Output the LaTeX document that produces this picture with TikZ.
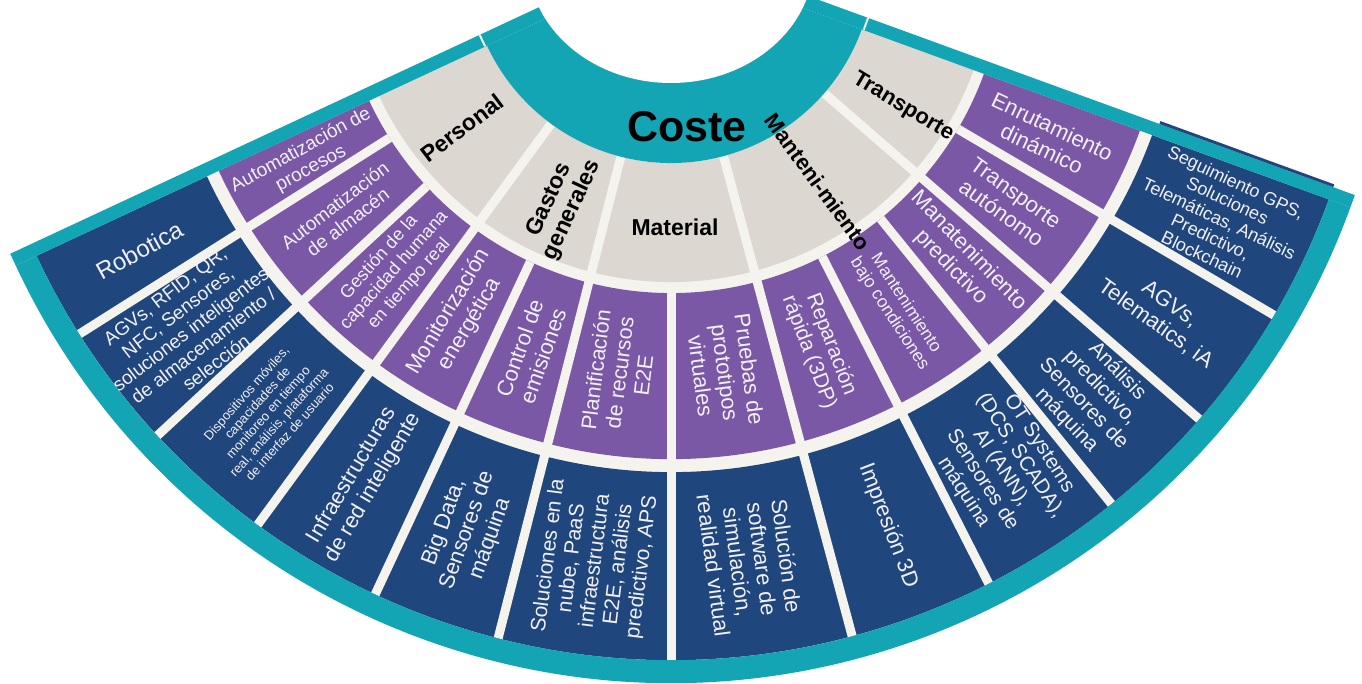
\documentclass[tikz,border=0pt]{standalone}
\usepackage{fontspec}
\setmainfont{Liberation Sans}
\usetikzlibrary{calc}
\definecolor{tealc}{HTML}{14A5B5}
\definecolor{beigec}{HTML}{DCD7D0}
\definecolor{purplec}{HTML}{7A58A6}
\definecolor{bluec}{HTML}{1F477D}
\definecolor{gapc}{HTML}{F5F3EE}
\definecolor{txtc}{HTML}{F2EFF7}
\newcommand\ringsector[5]{%
  \fill[#1] (#2:#4pt) arc[start angle=#2, end angle=#3, radius=#4pt] -- (#3:#5pt) arc[start angle=#3, end angle=#2, radius=#5pt] -- cycle;}
\newcommand\fs[2]{\fontsize{#1}{#2}\selectfont}
\tikzset{
  celltxt/.style={text=txtc, align=center, inner sep=0pt},
  catlbl/.style={text=black, align=center, inner sep=0pt, font=\bfseries\fontsize{23}{25}\selectfont},
  divider/.style={draw=gapc, line width=9pt},
  breakline/.style={draw=gapc, line width=2pt},
}
\begin{document}
\begin{tikzpicture}[x=1pt,y=1pt]
\useasboundingbox (-671,-724) rectangle (691,-40);
\fill[white] (-671,-724) rectangle (691,-40);
% rings
\ringsector{gapc}{205}{340}{203}{700}
\ringsector{beigec}{205}{340}{203}{322}
\ringsector{purplec}{205}{340}{333}{499}
\ringsector{bluec}{205}{340}{512}{700}
% dividers
\foreach \a in {212.3,222.8,245,270,297,309,329.5} {\draw[divider] (\a:333pt) -- (\a:700pt);}
\foreach \a in {233.8,255.7,285,319} {\draw[divider] (\a:203pt) -- (\a:700pt);}
% teal bands
\ringsector{tealc}{205}{340}{100}{203}
\ringsector{tealc}{205}{340}{700}{723}
\fill[tealc] (205:139pt) -- (205:723pt) -- ($(205:723pt)+(115:13pt)$) -- ($(205:139pt)+(115:13pt)$) -- cycle;
\fill[tealc] (340:139pt) -- (340:723pt) -- ($(340:723pt)+(70:13pt)$) -- ($(340:139pt)+(70:13pt)$) -- cycle;
\draw[bluec, line width=3pt] ($(340:515pt)+(70:14.5pt)$) -- ($(340:700pt)+(70:14.5pt)$);
\draw[breakline] ($(205:205pt)+(115:0.5pt)$) -- ($(205:205pt)+(115:13pt)$);
\draw[breakline] ($(340:205pt)+(70:0.5pt)$) -- ($(340:205pt)+(70:13pt)$);
\fill[white] (0,0) ellipse [x radius=143pt, y radius=123pt];
% centre
\node[text=black, inner sep=0pt, font=\bfseries\fontsize{43}{45}\selectfont] (coste) at (16,-167) {Coste};
% category labels
\node[catlbl, rotate=37] (personal) at (-209,-168) {Personal};
\node[catlbl, rotate=65] (gastos) at (-110,-245) {Gastos\\generales};
\node[catlbl] (material) at (4,-267) {Material};
\node[catlbl, rotate=-54, font=\bfseries\fontsize{22}{24}\selectfont] (mant) at (147,-222) {Manteni-miento};
\node[catlbl, rotate=-31, font=\bfseries\fontsize{22}{24}\selectfont] (transp) at (232,-147) {Transporte};
% purple ring
\node[celltxt, rotate=28.65, font=\fs{19}{21}] (p1) at (208.65:416pt) {Automatización de\\procesos};
\node[celltxt, rotate=37.55, font=\fs{19}{21}] (p2) at (217.55:416pt) {Automatización\\de almacén};
\node[celltxt, rotate=48.3, font=\fs{18}{20}] (p3) at (228.3:416pt) {Gestión de la\\capacidad humana\\en tiempo real};
\node[celltxt, rotate=59.4, font=\fs{22}{24.5}] (p4) at (239.4:416pt) {Monitorización\\energética};
\node[celltxt, rotate=70.35, font=\fs{22}{24.5}] (p5) at (250.35:416pt) {Control de\\emisiones};
\node[celltxt, rotate=82.85, font=\fs{21.5}{24}] (p6) at (262.85:416pt) {Planificación\\de recursos\\E2E};
\node[celltxt, rotate=-82.5, font=\fs{22}{24.5}] (p7) at (277.5:416pt) {Pruebas de\\prototipos\\virtuales};
\node[celltxt, rotate=-69, font=\fs{21}{23.5}] (p8) at (291:416pt) {Reparación\\rápida (3DP)};
\node[celltxt, rotate=-57, font=\fs{17.5}{19.5}] (p9) at (303:416pt) {Mantenimiento\\bajo condiciones};
\node[celltxt, rotate=-46, font=\fs{22}{24.5}] (p10) at (314:416pt) {Manatenimiento\\predictivo};
\node[celltxt, rotate=-35.75, font=\fs{22}{24.5}] (p11) at (324.25:416pt) {Transporte\\autónomo};
\node[celltxt, rotate=-25.25, font=\fs{22}{24.5}] (p12) at (334.75:416pt) {Enrutamiento\\dinámico};
% blue ring
\node[celltxt, rotate=28.65, font=\fs{24}{26}] (b1) at (208.65:606pt) {Robotica};
\node[celltxt, rotate=37.55, font=\fs{19}{21}] (b2) at (217.55:606pt) {AGVs, RFID, QR,\\NFC, Sensores,\\soluciones inteligentes\\de almacenamiento /\\selección};
\node[celltxt, rotate=48.3, font=\fs{13}{14.5}] (b3) at (228.3:606pt) {Dispositivos móviles,\\capacidades de\\monitoreo en tiempo\\real, análisis, plataforma\\de interfaz de usuario};
\node[celltxt, rotate=59.4, font=\fs{22}{24.5}] (b4) at (239.4:606pt) {Infraestructuras\\de red inteligente};
\node[celltxt, rotate=70.35, font=\fs{22}{24.5}] (b5) at (250.35:606pt) {Big Data,\\Sensores de\\máquina};
\node[celltxt, rotate=82.85, font=\fs{21}{23.5}] (b6) at (262.85:606pt) {Soluciones en la\\nube, PaaS\\infraestructura\\E2E, análisis\\predictivo, APS};
\node[celltxt, rotate=-82.5, font=\fs{22}{24.5}] (b7) at (277.5:606pt) {Solución de\\software de\\simulación,\\realidad virtual};
\node[celltxt, rotate=-69, font=\fs{22}{24.5}] (b8) at (291:606pt) {Impresión 3D};
\node[celltxt, rotate=-57, font=\fs{20.5}{22.5}] (b9) at (303:606pt) {OT Systems\\(DCS, SCADA),\\AI (ANN),\\Sensores de\\máquina};
\node[celltxt, rotate=-46, font=\fs{21}{23.5}] (b10) at (314:606pt) {Análisis\\predictivo,\\Sensores de\\máquina};
\node[celltxt, rotate=-35.75, font=\fs{22}{24.5}] (b11) at (324.25:606pt) {AGVs,\\Telematics, iA};
\node[celltxt, rotate=-25.25, font=\fs{18}{20}] (b12) at (334.75:606pt) {Seguimiento GPS,\\Soluciones\\Telemáticas, Análisis\\Predictivo,\\Blockchain};
\end{tikzpicture}
\end{document}
